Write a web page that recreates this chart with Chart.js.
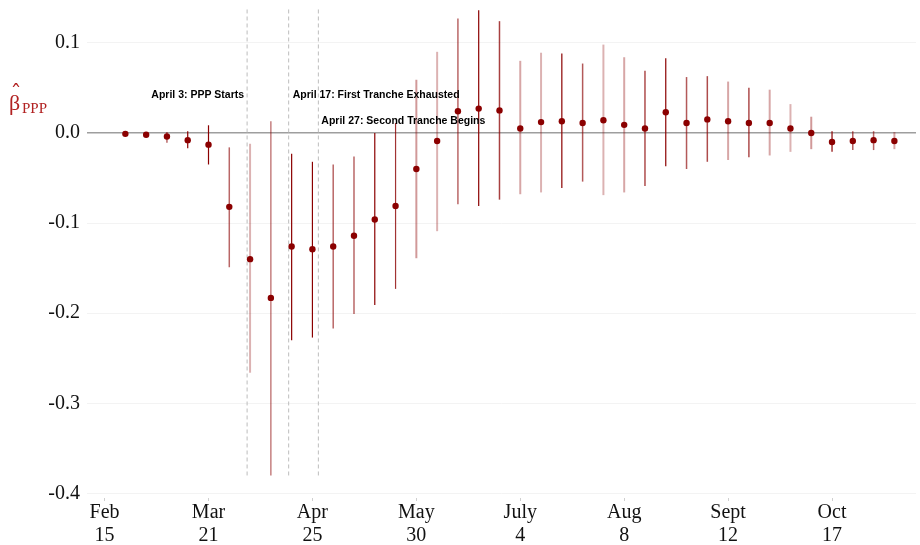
<!DOCTYPE html>
<html>
<head>
<meta charset="utf-8">
<script src="https://cdn.jsdelivr.net/npm/chart.js@4.4.1/dist/chart.umd.min.js"></script>
<style>
  html, body { margin:0; padding:0; background:#fff; }
  #wrap { width:920px; height:545px; }
</style>
</head>
<body>
<div id="wrap"><canvas id="c" width="920" height="545"></canvas></div>
<script>
// semanas desde 15 de fev (0 = Feb 15)
const weeks = [1,2,3,4,5,6,7,8,9,10,11,12,13,14,15,16,17,18,19,20,21,22,23,24,25,26,27,28,29,30,31,32,33,34,35,36,37,38];
const estimate = [-0.001,-0.002,-0.004,-0.008,-0.013,-0.082,-0.140,-0.183,-0.126,-0.129,-0.126,-0.114,-0.096,-0.081,-0.040,-0.009,0.024,0.027,0.025,0.005,0.012,0.013,0.011,0.014,0.009,0.005,0.023,0.011,0.015,0.013,0.011,0.011,0.005,0.000,-0.010,-0.009,-0.008,-0.009];
const ciLow = [-0.003,-0.004,-0.011,-0.017,-0.035,-0.149,-0.266,-0.380,-0.230,-0.227,-0.217,-0.201,-0.191,-0.173,-0.139,-0.109,-0.079,-0.081,-0.074,-0.068,-0.066,-0.061,-0.054,-0.069,-0.066,-0.059,-0.037,-0.040,-0.032,-0.030,-0.027,-0.025,-0.021,-0.018,-0.021,-0.019,-0.019,-0.018];
const ciHigh = [0.001,0.000,0.001,0.002,0.0085,-0.016,-0.012,0.013,-0.023,-0.032,-0.035,-0.026,0.000,0.011,0.059,0.090,0.127,0.136,0.124,0.080,0.089,0.088,0.077,0.098,0.084,0.069,0.083,0.062,0.063,0.057,0.050,0.048,0.032,0.018,0.002,0.002,0.002,0.001];
// intensidade de cada intervalo (vira alpha)
const shade = [1,1,0.6,1,1,0.6,0.3,0.5,1,1,0.6,0.6,1,0.8,0.4,0.3,0.6,1,0.75,0.35,0.3,1,0.65,0.3,0.35,0.7,1,0.65,0.7,0.35,0.7,0.35,0.3,0.4,1,0.8,0.6,0.35];

const tickWeeks = [0,5,10,15,20,25,30,35];
const tickLabels = [['Feb','15'],['Mar','21'],['Apr','25'],['May','30'],['July','4'],['Aug','8'],['Sept','12'],['Oct','17']];
const yTicks = [0.1,0.0,-0.1,-0.2,-0.3,-0.4];

const eventWeeks = [6.857, 8.857, 10.286];
const eventLabels = ['April 3: PPP Starts','April 17: First Tranche Exhausted','April 27: Second Tranche Begins'];
const eventLabelY = [0.042, 0.042, 0.013];

const RED = '139,0,0';

const ciSets = weeks.map((w,i)=>({
  type:'line',
  data:[{x:w,y:ciLow[i]},{x:w,y:ciHigh[i]}],
  borderColor:`rgba(${RED},${shade[i]})`,
  borderWidth: shade[i] < 0.5 ? 2 : (shade[i] < 0.8 ? 1.5 : 1.2),
  pointRadius:0, order:1
}));
const vSets = eventWeeks.map(w=>({
  type:'line',
  data:[{x:w,y:-0.38},{x:w,y:0.1375}],
  borderColor:'#bdbdbd', borderWidth:1, borderDash:[4,3],
  pointRadius:0, order:2
}));
const ptSet = {
  type:'scatter',
  data: weeks.map((w,i)=>({x:w,y:estimate[i]})),
  backgroundColor:'#8B0000', borderColor:'#8B0000',
  pointRadius:3.2, borderWidth:0, order:0
};

const labelsPlugin = {
  id:'labels',
  afterDatasetsDraw(chart){
    const ctx = chart.ctx, x = chart.scales.x, y = chart.scales.y;
    ctx.save();
    ctx.font = 'bold 10.5px "Liberation Sans", Arial, sans-serif';
    ctx.fillStyle = '#000';
    ctx.textBaseline = 'middle';
    const align = ['right','left','left'];
    const off = [-3, 4, 3];
    eventLabels.forEach((t,i)=>{
      ctx.textAlign = align[i];
      ctx.fillText(t, x.getPixelForValue(eventWeeks[i]) + off[i], y.getPixelForValue(eventLabelY[i]));
    });
    // titulo do eixo y: beta chapeu PPP
    ctx.fillStyle = '#B22222';
    ctx.textBaseline = 'alphabetic';
    ctx.textAlign = 'left';
    ctx.font = '22px "Liberation Serif", serif';
    ctx.fillText('β', 9, 110);
    ctx.textAlign = 'center';
    ctx.font = '22px "DejaVu Serif", serif';
    ctx.fillText('ˆ', 16, 101);
    ctx.textAlign = 'left';
    ctx.font = '15px "Liberation Serif", serif';
    ctx.fillText('PPP', 22, 113);
    ctx.restore();
  }
};

new Chart(document.getElementById('c'), {
  data:{ datasets:[ptSet, ...ciSets, ...vSets] },
  options:{
    responsive:false, animation:false,
    layout:{ padding:{ top:9, right:0, left:0, bottom:0 } },
    plugins:{ legend:{ display:false }, tooltip:{ enabled:false } },
    scales:{
      x:{
        type:'linear', min:-0.846, max:39.04,
        afterBuildTicks(s){ s.ticks = tickWeeks.map(v=>({value:v})); },
        afterFit(s){ s.height = 47; s.paddingLeft = 0; s.paddingRight = 0; },
        grid:{ drawOnChartArea:false, drawTicks:true, tickLength:3, color:'#cfcfcf' },
        border:{ display:false },
        ticks:{
          padding:1, maxRotation:0, autoSkip:false,
          color:'#111',
          font:{ family:'"Liberation Serif", serif', size:20, lineHeight:1.12 },
          callback(v){ const k = tickWeeks.indexOf(v); return k >= 0 ? tickLabels[k] : ''; }
        }
      },
      y:{
        type:'linear', min:-0.405, max:0.1375,
        afterBuildTicks(s){ s.ticks = yTicks.map(v=>({value:v})); },
        afterFit(s){ s.width = 87; s.paddingTop = 0; s.paddingBottom = 0; },
        grid:{
          drawTicks:false,
          color: c => c.tick && Math.abs(c.tick.value) < 1e-9 ? '#9e9e9e' : '#f3f3f3',
          lineWidth: c => c.tick && Math.abs(c.tick.value) < 1e-9 ? 1.6 : 1
        },
        border:{ display:false },
        ticks:{
          padding:7, color:'#111',
          font:{ family:'"Liberation Serif", serif', size:20 },
          callback(v){ return v.toFixed(1); }
        }
      }
    }
  },
  plugins:[labelsPlugin]
});
</script>
</body>
</html>
